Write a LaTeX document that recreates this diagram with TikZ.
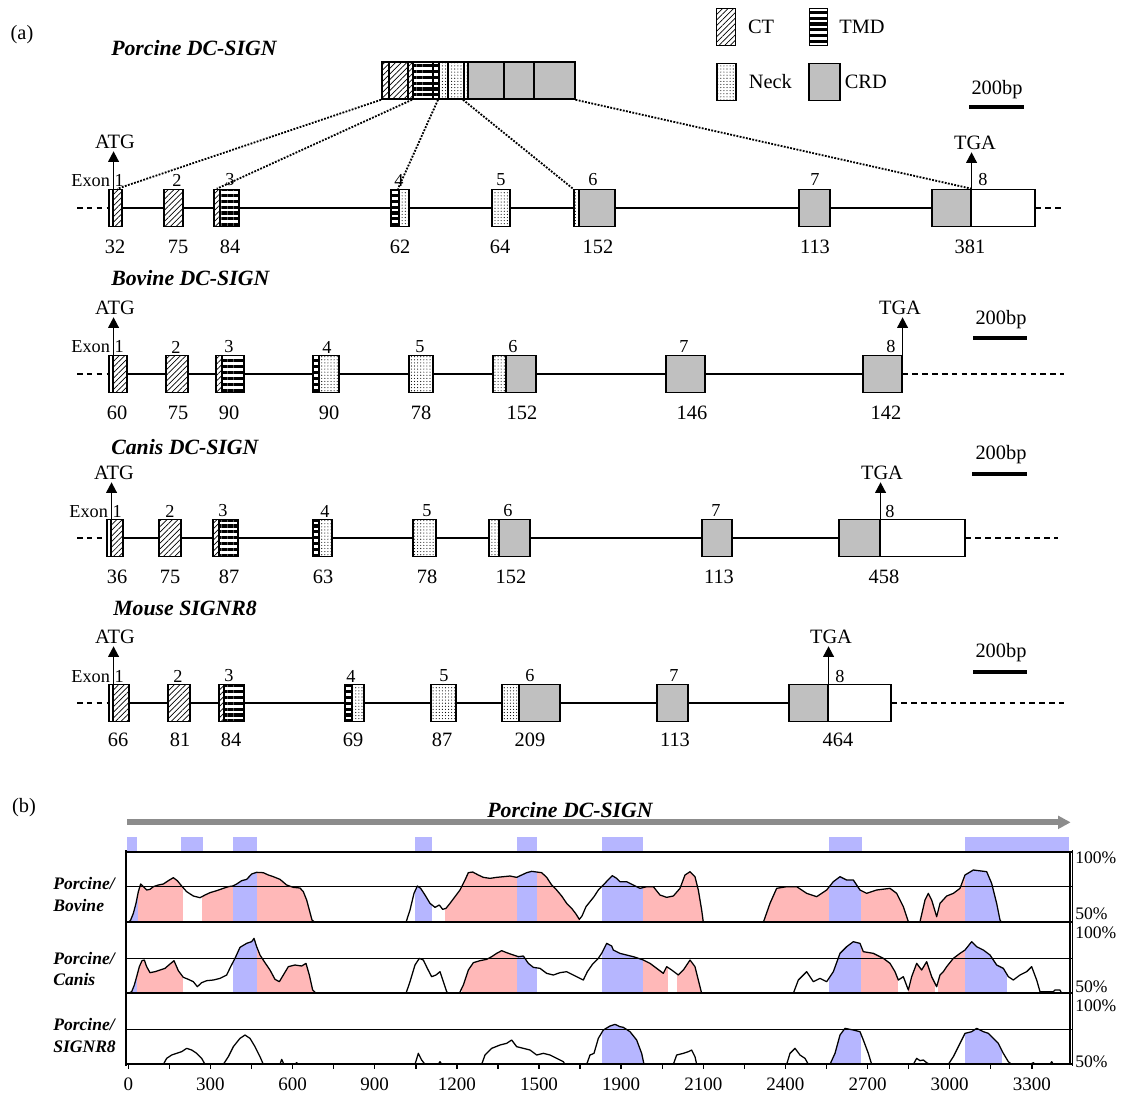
\documentclass[tikz,border=0pt]{standalone}
\usepackage{fontspec}
\setmainfont{Liberation Serif}
\usetikzlibrary{arrows.meta, patterns, patterns.meta, positioning}
\definecolor{crdgray}{RGB}{192,192,192}
\definecolor{consblue}{RGB}{182,182,255}
\definecolor{conspink}{RGB}{255,184,184}
\definecolor{axisgray}{RGB}{140,140,140}

% one exon (or domain) piece: name, style, left x, right x, row y
\newcommand{\exbox}[5]{\node[#2, minimum width={(#4-#3)*0.025cm}] (#1) at (#3,#5) {};}

% identity profiles (panel b), in 1/3 px units
\def\consA{(85,397) -- (92,390) -- (100,370) -- (108,340) -- (115,305) -- (122,282) -- (130,290) -- (140,300) -- (150,298) -- (160,290) -- (175,285) -- (190,282) -- (205,272) -- (220,263) -- (232,272) -- (245,288) -- (260,305) -- (280,318) -- (300,323) -- (315,315) -- (330,308) -- (350,302) -- (370,295) -- (385,290) -- (398,288) -- (410,282) -- (425,272) -- (440,268) -- (455,252) -- (470,247) -- (490,248) -- (505,255) -- (520,260) -- (540,268) -- (560,285) -- (580,292) -- (600,294) -- (610,305) -- (620,330) -- (628,360) -- (636,390) -- (645,397) -- (918,397) -- (930,360) -- (942,310) -- (952,288) -- (962,295) -- (975,315) -- (990,340) -- (1005,352) -- (1018,345) -- (1028,358) -- (1038,355) -- (1050,340) -- (1065,320) -- (1080,300) -- (1095,270) -- (1105,248) -- (1118,246) -- (1135,255) -- (1150,262) -- (1170,265) -- (1190,262) -- (1210,260) -- (1230,258) -- (1250,262) -- (1265,255) -- (1280,248) -- (1295,244) -- (1310,246) -- (1325,248) -- (1340,262) -- (1355,285) -- (1370,300) -- (1385,318) -- (1400,340) -- (1415,355) -- (1428,372) -- (1438,388) -- (1446,378) -- (1458,350) -- (1470,335) -- (1482,320) -- (1495,300) -- (1510,285) -- (1522,272) -- (1537,257) -- (1550,265) -- (1560,275) -- (1580,275) -- (1600,285) -- (1620,295) -- (1640,290) -- (1660,290) -- (1680,315) -- (1700,322) -- (1720,318) -- (1740,295) -- (1755,255) -- (1770,245) -- (1785,260) -- (1795,300) -- (1805,360) -- (1810,397) -- (1990,397) -- (2010,340) -- (2030,295) -- (2060,290) -- (2090,290) -- (2120,310) -- (2150,320) -- (2180,300) -- (2200,275) -- (2220,260) -- (2240,270) -- (2260,270) -- (2280,300) -- (2300,310) -- (2330,300) -- (2370,295) -- (2390,310) -- (2410,350) -- (2425,395) -- (2460,395) -- (2475,330) -- (2485,310) -- (2495,330) -- (2510,380) -- (2520,340) -- (2540,318) -- (2560,310) -- (2580,295) -- (2595,255) -- (2620,240) -- (2660,245) -- (2675,280) -- (2690,340) -- (2700,390) -- (2705,397) -- (2910,397)}
\def\consB{(85,610) -- (95,605) -- (103,585) -- (110,560) -- (118,530) -- (126,512) -- (133,510) -- (140,530) -- (150,548) -- (165,545) -- (180,540) -- (195,535) -- (210,522) -- (222,512) -- (235,542) -- (250,562) -- (265,568) -- (280,575) -- (292,590) -- (305,578) -- (320,572) -- (340,570) -- (360,565) -- (380,555) -- (392,530) -- (405,505) -- (420,472) -- (440,460) -- (455,455) -- (462,445) -- (470,470) -- (480,495) -- (495,518) -- (510,540) -- (525,568) -- (538,575) -- (550,555) -- (565,530) -- (585,525) -- (605,528) -- (618,520) -- (628,555) -- (638,600) -- (648,610) -- (918,610) -- (930,575) -- (945,525) -- (958,505) -- (970,510) -- (982,535) -- (995,560) -- (1008,555) -- (1020,545) -- (1030,575) -- (1040,605) -- (1045,610) -- (1078,610) -- (1090,585) -- (1105,540) -- (1120,518) -- (1140,512) -- (1160,508) -- (1175,500) -- (1190,490) -- (1205,482) -- (1220,488) -- (1240,495) -- (1255,500) -- (1270,498) -- (1285,520) -- (1300,532) -- (1320,535) -- (1340,550) -- (1360,555) -- (1380,548) -- (1400,545) -- (1420,555) -- (1440,565) -- (1450,570) -- (1462,545) -- (1478,522) -- (1495,505) -- (1505,490) -- (1520,460) -- (1535,468) -- (1540,480) -- (1560,490) -- (1580,495) -- (1600,500) -- (1630,510) -- (1650,520) -- (1670,535) -- (1690,550) -- (1700,530) -- (1715,540) -- (1735,555) -- (1750,540) -- (1770,510) -- (1785,530) -- (1795,570) -- (1805,610) -- (2080,610) -- (2095,570) -- (2120,545) -- (2140,575) -- (2160,565) -- (2180,575) -- (2200,545) -- (2220,490) -- (2240,470) -- (2260,455) -- (2280,460) -- (2290,485) -- (2320,490) -- (2350,505) -- (2370,520) -- (2385,545) -- (2395,570) -- (2410,560) -- (2425,600) -- (2435,560) -- (2450,520) -- (2465,540) -- (2480,515) -- (2495,560) -- (2510,590) -- (2520,555) -- (2530,545) -- (2540,530) -- (2560,505) -- (2580,490) -- (2595,480) -- (2615,455) -- (2630,470) -- (2650,480) -- (2670,495) -- (2690,525) -- (2710,535) -- (2725,560) -- (2740,570) -- (2760,555) -- (2780,545) -- (2795,530) -- (2810,570) -- (2820,605) -- (2860,605) -- (2865,600) -- (2880,600) -- (2885,610) -- (2910,610)}
\def\consC{(85,823) -- (190,823) -- (200,805) -- (215,795) -- (230,790) -- (245,785) -- (260,775) -- (275,780) -- (290,790) -- (305,805) -- (315,823) -- (370,823) -- (385,800) -- (400,770) -- (420,745) -- (435,735) -- (450,745) -- (465,770) -- (480,800) -- (490,823) -- (540,823) -- (545,808) -- (552,823) -- (585,823) -- (590,818) -- (595,823) -- (945,823) -- (955,790) -- (965,810) -- (975,823) -- (1015,823) -- (1020,815) -- (1025,823) -- (1145,823) -- (1155,795) -- (1175,775) -- (1200,765) -- (1220,760) -- (1235,750) -- (1250,770) -- (1270,775) -- (1290,780) -- (1310,795) -- (1330,790) -- (1350,795) -- (1370,805) -- (1390,815) -- (1395,823) -- (1460,823) -- (1470,795) -- (1482,790) -- (1495,745) -- (1510,720) -- (1530,708) -- (1545,703) -- (1560,710) -- (1570,712) -- (1590,725) -- (1610,750) -- (1625,790) -- (1632,823) -- (1720,823) -- (1730,795) -- (1750,790) -- (1765,785) -- (1775,780) -- (1785,800) -- (1790,823) -- (2060,823) -- (2070,790) -- (2085,775) -- (2100,795) -- (2115,805) -- (2125,823) -- (2190,823) -- (2205,790) -- (2220,735) -- (2235,715) -- (2260,720) -- (2280,725) -- (2290,750) -- (2305,790) -- (2315,823) -- (2440,823) -- (2450,805) -- (2460,812) -- (2470,810) -- (2480,818) -- (2490,823) -- (2545,823) -- (2560,800) -- (2580,760) -- (2595,730) -- (2615,725) -- (2630,715) -- (2650,725) -- (2665,730) -- (2680,745) -- (2695,760) -- (2710,790) -- (2725,815) -- (2735,823) -- (2790,823) -- (2800,818) -- (2805,823) -- (2850,823) -- (2855,815) -- (2860,823) -- (2910,823)}

\begin{document}
\begin{tikzpicture}[
  x=0.025cm, y=-0.025cm,
  exon/.style={draw, line width=1.1pt, minimum height=0.925cm, inner sep=0pt, anchor=west},
  ct/.style={exon, pattern={Lines[angle=45, distance=2.8pt, line width=0.5pt]}},
  tmd/.style={exon, pattern={Lines[angle=0, distance=4.2pt, line width=2.2pt]}},
  neck/.style={exon, pattern={Dots[distance=2.2pt, radius=0.4pt]}},
  crd/.style={exon, fill=crdgray},
  utr/.style={exon, fill=white},
  lbl/.style={font=\fontsize{14.5}{17}\selectfont, inner sep=0pt},
  exnum/.style={font=\fontsize{13}{15}\selectfont, inner sep=0pt},
  gene/.style={font=\fontsize{15.5}{18}\selectfont\bfseries\itshape, inner sep=0pt},
  trk/.style={font=\fontsize{12.5}{15.6}\selectfont\bfseries\itshape, inner sep=0pt, align=left, anchor=west},
  codon/.style={-{Triangle[length=7.5pt, width=7.5pt]}, line width=1.3pt},
  intron/.style={line width=1pt},
  flank/.style={line width=1pt, dash pattern=on 4pt off 3pt},
  zoomline/.style={line width=1.3pt, densely dotted},
  scalebar/.style={line width=2.2pt},
  axnum/.style={font=\fontsize{13.5}{16}\selectfont, inner sep=0pt},
  pct/.style={font=\fontsize{12.5}{14}\selectfont, inner sep=0pt, anchor=west}
]
  \fill[white] (0,0) rectangle (1128,1093);
  \useasboundingbox (0,0) rectangle (1128,1093);

  % ---------------- panel (a) ----------------
  \node[lbl] (pana) at (22,35) {(a)};

  % legend
  \node[ct, minimum width=0.475cm] (keyct) at (716,27) {};
  \node[lbl, right=0.3cm of keyct] (keyctt) {CT};
  \node[tmd, minimum width=0.45cm] (keytmd) at (808,27) {};
  \node[lbl, right=0.25cm of keytmd] (keytmdt) {TMD};
  \node[neck, minimum width=0.475cm] (keyneck) at (716,82) {};
  \node[lbl, right=0.3cm of keyneck] (keyneckt) {Neck};
  \node[crd, minimum width=0.775cm] (keycrd) at (808,82) {};
  \node[lbl, right=0.1cm of keycrd] (keycrdt) {CRD};

  % Porcine protein
  \node[gene, anchor=west] (portitle) at (111,48) {Porcine DC-SIGN};
  \exbox{bar1}{ct}{381}{388}{80.5}
  \exbox{bar2}{ct}{388}{407}{80.5}
  \exbox{bar3}{ct}{407}{412}{80.5}
  \exbox{bar4}{tmd}{412}{432}{80.5}
  \exbox{bar5}{tmd}{432}{438}{80.5}
  \exbox{bar6}{neck}{438}{447}{80.5}
  \exbox{bar7}{neck}{447}{463}{80.5}
  \exbox{bar8}{neck}{463}{467}{80.5}
  \exbox{bar9}{crd}{467}{503}{80.5}
  \exbox{bar10}{crd}{503}{533}{80.5}
  \exbox{bar11}{crd}{533}{574}{80.5}

  % Porcine gene
  \exbox{por1a}{utr}{108}{112}{208}
  \exbox{por1b}{ct}{112}{121}{208}
  \exbox{por2}{ct}{163}{182}{208}
  \exbox{por3a}{ct}{213}{219}{208}
  \exbox{por3b}{tmd}{219}{238}{208}
  \exbox{por4a}{tmd}{390}{398}{208}
  \exbox{por4b}{neck}{398}{408}{208}
  \exbox{por5}{neck}{491}{509}{208}
  \exbox{por6a}{neck}{573}{578}{208}
  \exbox{por6b}{crd}{578}{614}{208}
  \exbox{por7}{crd}{798}{829}{208}
  \exbox{por8a}{crd}{931}{970}{208}
  \exbox{por8b}{utr}{970}{1034}{208}
  \coordinate (porL) at (77,208);
  \coordinate (porR) at (1064,208);
  \draw[intron] (por1b) -- (por2) -- (por3a);
  \draw[intron] (por3b) -- (por4a);
  \draw[intron] (por4b) -- (por5) -- (por6a);
  \draw[intron] (por6b) -- (por7) -- (por8a);
  \draw[flank] (porL) -- (por1a);
  \draw[flank] (por8b) -- (porR);
  \node[lbl, inner sep=1.5pt] (poratg) at (115,142) {ATG};
  \node[lbl, inner sep=1.5pt] (portga) at (975,143) {TGA};
  \draw[codon] (por1a.north east) -- (por1a.north east |- poratg.south);
  \draw[codon] (por8a.north east) -- (por8a.north east |- portga.south);
  \node[exnum, anchor=east] (porexon) at (124,181) {Exon 1};
  \foreach \x/\t [count=\i] in {177/2, 230/3, 399/4, 501/5, 593/6, 815/7, 983/8}
    \node[exnum] (porex\i) at (\x,180) {\t};
  \foreach \x/\t [count=\i] in {115/32, 178/75, 230/84, 400/62, 500/64, 598/152, 815/113, 970/381}
    \node[lbl] (porlen\i) at (\x,247) {\t};
  \node[lbl] (porbar) at (997,90) {200bp};
  \draw[scalebar] (969,107) -- (1024,107);

  % protein domains back onto the exons
  \draw[zoomline] (bar1.south west) -- (por1b.north);
  \draw[zoomline] (bar4.south west) -- (por3a.north);
  \draw[zoomline] (bar6.south west) -- (por4b.north west);
  \draw[zoomline] (bar8.south west) -- (por6a.north west);
  \draw[zoomline] (bar11.south east) -- (por8a.north east);

  % Bovine gene
  \node[gene, anchor=west] (bovtitle) at (111,278) {Bovine DC-SIGN};
  \exbox{bov1a}{utr}{108}{112}{374}
  \exbox{bov1b}{ct}{112}{126}{374}
  \exbox{bov2}{ct}{165}{187}{374}
  \exbox{bov3a}{ct}{215}{221}{374}
  \exbox{bov3b}{tmd}{221}{243}{374}
  \exbox{bov4a}{tmd}{312}{318}{374}
  \exbox{bov4b}{neck}{318}{338}{374}
  \exbox{bov5}{neck}{408}{432}{374}
  \exbox{bov6a}{neck}{492}{505}{374}
  \exbox{bov6b}{crd}{505}{535}{374}
  \exbox{bov7}{crd}{665}{704}{374}
  \exbox{bov8}{crd}{862}{901}{374}
  \coordinate (bovL) at (77,374);
  \coordinate (bovR) at (1064,374);
  \draw[intron] (bov1b) -- (bov2) -- (bov3a);
  \draw[intron] (bov3b) -- (bov4a);
  \draw[intron] (bov4b) -- (bov5) -- (bov6a);
  \draw[intron] (bov6b) -- (bov7) -- (bov8);
  \draw[flank] (bovL) -- (bov1a);
  \draw[flank] (bov8) -- (bovR);
  \node[lbl, inner sep=1.5pt] (bovatg) at (115,308) {ATG};
  \node[lbl, inner sep=1.5pt] (bovtga) at (900,308) {TGA};
  \draw[codon] (bov1a.north east) -- (bov1a.north east |- bovatg.south);
  \draw[codon] (bov8.north east) -- (bov8.north east |- bovtga.south);
  \node[exnum, anchor=east] (bovexon) at (124,347) {Exon 1};
  \foreach \x/\t [count=\i] in {176/2, 229/3, 327/4, 420/5, 513/6, 684/7, 891/8}
    \node[exnum] (bovex\i) at (\x,347) {\t};
  \foreach \x/\t [count=\i] in {117/60, 178/75, 229/90, 329/90, 421/78, 522/152, 692/146, 886/142}
    \node[lbl] (bovlen\i) at (\x,413) {\t};
  \node[lbl] (bovbar) at (1001,320) {200bp};
  \draw[scalebar] (973,338) -- (1027,338);

  % Canis gene
  \node[gene, anchor=west] (cantitle) at (111,447) {Canis DC-SIGN};
  \exbox{can1a}{utr}{106}{110}{538}
  \exbox{can1b}{ct}{110}{122}{538}
  \exbox{can2}{ct}{158}{180}{538}
  \exbox{can3a}{ct}{212}{218}{538}
  \exbox{can3b}{tmd}{218}{237}{538}
  \exbox{can4a}{tmd}{312}{318}{538}
  \exbox{can4b}{neck}{318}{331}{538}
  \exbox{can5}{neck}{412}{435}{538}
  \exbox{can6a}{neck}{488}{498}{538}
  \exbox{can6b}{crd}{498}{529}{538}
  \exbox{can7}{crd}{701}{731}{538}
  \exbox{can8a}{crd}{838}{879}{538}
  \exbox{can8b}{utr}{879}{964}{538}
  \coordinate (canL) at (77,538);
  \coordinate (canR) at (1058,538);
  \draw[intron] (can1b) -- (can2) -- (can3a);
  \draw[intron] (can3b) -- (can4a);
  \draw[intron] (can4b) -- (can5) -- (can6a);
  \draw[intron] (can6b) -- (can7) -- (can8a);
  \draw[flank] (canL) -- (can1a);
  \draw[flank] (can8b) -- (canR);
  \node[lbl, inner sep=1.5pt] (canatg) at (114,473) {ATG};
  \node[lbl, inner sep=1.5pt] (cantga) at (882,473) {TGA};
  \draw[codon] (can1a.north east) -- (can1a.north east |- canatg.south);
  \draw[codon] (can8a.north east) -- (can8a.north east |- cantga.south);
  \node[exnum, anchor=east] (canexon) at (122,512) {Exon 1};
  \foreach \x/\t [count=\i] in {170/2, 223/3, 325/4, 427/5, 508/6, 716/7, 890/8}
    \node[exnum] (canex\i) at (\x,511) {\t};
  \foreach \x/\t [count=\i] in {117/36, 170/75, 229/87, 323/63, 427/78, 511/152, 719/113, 884/458}
    \node[lbl] (canlen\i) at (\x,577) {\t};
  \node[lbl] (canbar) at (1001,455) {200bp};
  \draw[scalebar] (972,474) -- (1027,474);

  % Mouse gene
  \node[gene, anchor=west] (moutitle) at (113,608) {Mouse SIGNR8};
  \exbox{mou1a}{utr}{108}{112}{703}
  \exbox{mou1b}{ct}{112}{128}{703}
  \exbox{mou2}{ct}{167}{189}{703}
  \exbox{mou3a}{ct}{218}{223}{703}
  \exbox{mou3b}{tmd}{223}{243}{703}
  \exbox{mou4a}{tmd}{344}{351}{703}
  \exbox{mou4b}{neck}{351}{363}{703}
  \exbox{mou5}{neck}{430}{455}{703}
  \exbox{mou6a}{neck}{501}{518}{703}
  \exbox{mou6b}{crd}{518}{559}{703}
  \exbox{mou7}{crd}{656}{687}{703}
  \exbox{mou8a}{crd}{788}{827}{703}
  \exbox{mou8b}{utr}{827}{890}{703}
  \coordinate (mouL) at (77,703);
  \coordinate (mouR) at (1064,703);
  \draw[intron] (mou1b) -- (mou2) -- (mou3a);
  \draw[intron] (mou3b) -- (mou4a);
  \draw[intron] (mou4b) -- (mou5) -- (mou6a);
  \draw[intron] (mou6b) -- (mou7) -- (mou8a);
  \draw[flank] (mouL) -- (mou1a);
  \draw[flank] (mou8b) -- (mouR);
  \node[lbl, inner sep=1.5pt] (mouatg) at (115,637) {ATG};
  \node[lbl, inner sep=1.5pt] (moutga) at (831,637) {TGA};
  \draw[codon] (mou1a.north east) -- (mou1a.north east |- mouatg.south);
  \draw[codon] (mou8a.north east) -- (mou8a.north east |- moutga.south);
  \node[exnum, anchor=east] (mouexon) at (124,677) {Exon 1};
  \foreach \x/\t [count=\i] in {178/2, 229/3, 351/4, 444/5, 530/6, 674/7, 840/8}
    \node[exnum] (mouex\i) at (\x,676) {\t};
  \foreach \x/\t [count=\i] in {118/66, 180/81, 231/84, 353/69, 442/87, 530/209, 675/113, 838/464}
    \node[lbl] (moulen\i) at (\x,740) {\t};
  \node[lbl] (moubar) at (1001,653) {200bp};
  \draw[scalebar] (973,672) -- (1027,672);

  % ---------------- panel (b) ----------------
  \node[lbl] (panb) at (24,808) {(b)};
  \node[gene] (vtitle) at (570,810) {Porcine DC-SIGN};
  \node[trk] (vbov) at (53,894) {Porcine/\\Bovine};
  \node[trk] (vcan) at (53,969) {Porcine/\\Canis};
  \node[trk] (vmou) at (53,1035) {Porcine/\\SIGNR8};

  \begin{scope}[shift={(100,790)}, scale=1/3]
    \draw[axisgray, line width=4.3pt, -{Triangle[length=9pt, width=9pt]}] (82,97) -- (2912,97);
    \foreach \a/\b in {82/112, 243/310, 398/472, 945/995, 1250/1310, 1505/1630, 2188/2285, 2595/2908}
      \fill[consblue] (\a,140) rectangle (\b,185);

    % shaded conserved regions
    \begin{scope}
      \clip \consA -- cycle;
      \foreach \a/\b/\c in {82/115/consblue, 115/248/conspink, 305/398/conspink, 398/472/consblue,
          472/650/conspink, 945/995/consblue, 1035/1250/conspink, 1250/1310/consblue,
          1310/1440/conspink, 1505/1630/consblue, 1630/1810/conspink, 1995/2188/conspink,
          2188/2283/consblue, 2283/2425/conspink, 2455/2595/conspink, 2595/2705/consblue}
        \fill[\c] (\a,185) rectangle (\b,397);
    \end{scope}
    \begin{scope}
      \clip \consB -- cycle;
      \foreach \a/\b/\c in {82/110/consblue, 110/248/conspink, 398/472/consblue, 472/650/conspink,
          1085/1250/conspink, 1250/1310/consblue, 1505/1630/consblue, 1630/1705/conspink,
          1730/1805/conspink, 2188/2283/consblue, 2283/2395/conspink, 2425/2505/conspink,
          2515/2595/conspink, 2595/2720/consblue}
        \fill[\c] (\a,397) rectangle (\b,610);
    \end{scope}
    \begin{scope}
      \clip \consC -- cycle;
      \foreach \a/\b/\c in {1505/1632/consblue, 2188/2283/consblue, 2595/2705/consblue}
        \fill[\c] (\a,610) rectangle (\b,823);
    \end{scope}

    % grid and frame
    \foreach \y in {290, 505, 718}
      \draw[line width=0.8pt] (78,\y) -- (2918,\y);
    \draw[line width=0.9pt, line join=round] \consA;
    \draw[line width=0.9pt, line join=round] \consB;
    \draw[line width=0.9pt, line join=round] \consC;
    \foreach \y in {185, 397, 610, 823}
      \draw[line width=1.6pt] (78,\y) -- (2918,\y);
    \draw[line width=1.8pt] (78,180) -- (78,827);
    \draw[line width=0.8pt] (2910,185) -- (2910,823);
    \draw[line width=0.8pt] (2918,180) -- (2918,827);

    % axis
    \foreach \k in {0,...,22}
      \draw[line width=1pt] ({85+123.2*\k},823) -- ({85+123.2*\k},838);
    \foreach \v [count=\i from 0] in {0,300,600,900,1200,1500,1900,2100,2400,2700,3000,3300}
      \node[axnum] (tick\i) at ({85+246.4*\i},882) {\v};
    \foreach \y/\t [count=\i] in {204/100\%, 372/50\%, 428/100\%, 591/50\%, 647/100\%, 816/50\%}
      \node[pct] (pct\i) at (2925,\y) {\t};
  \end{scope}
\end{tikzpicture}
\end{document}
